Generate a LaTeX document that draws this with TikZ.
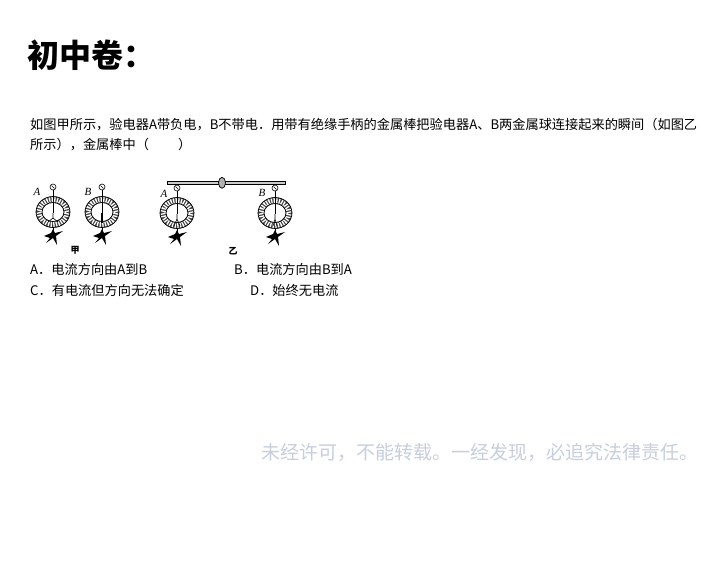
\documentclass[tikz,border=0pt]{standalone}
\usepackage{fontspec}
\setmainfont{Noto Sans CJK SC}
\newfontfamily\figfont{Liberation Serif}
\definecolor{markgray}{RGB}{200,206,222}
\tikzset{
  txt/.style={anchor=west,inner sep=0pt,font=\fontsize{13.2}{15}\selectfont},
  lab/.style={inner sep=0pt,font=\figfont\itshape\fontsize{11}{11}\selectfont},
  figcap/.style={inner sep=0pt,font=\fontsize{9}{9}\selectfont\bfseries},
}
% one electroscope: ball, stem, ring, leaves, base
\newcommand{\electro}[3]{%
  \begin{scope}[shift={(#1,#2)}]
    \draw[line width=6pt,black!75] (0,25) ellipse (14pt and 12.5pt);
    \draw[line width=5pt,dash pattern=on 1.3pt off 1.3pt,white] (0,25) ellipse (14pt and 12.5pt);
    \draw[line width=0.7pt] (0,25) ellipse (17pt and 15.5pt);
    \draw[line width=0.7pt] (0,25) ellipse (11pt and 9.5pt);
    \draw[line width=0.6pt] (0,0) circle (3pt);
    \draw[line width=0.5pt] (-1.5,-1.5)--(1.5,1.5);
    \draw[line width=0.7pt] (0,3)--(0,26);
    #3
    \draw[line width=0.9pt] (0,40)--(0,45);
    \fill (-9,49)--(-2,46)--(0,42)--(2,46)--(10,44)--(3,49)--(4,58)--(0,51)--(-7,56)--(-3,51)--cycle;
  \end{scope}}
\begin{document}
\begin{tikzpicture}[x=1pt,y=-1pt]
  \useasboundingbox[fill=white] (0,0) rectangle (720,563);
  \node[anchor=west,inner sep=0pt,font=\fontsize{32}{32}\selectfont\bfseries] (title) at (27,55) {初中卷：};
  \node[txt] (line1) at (30,125) {如图甲所示，验电器A带负电，B不带电．用带有绝缘手柄的金属棒把验电器A、B两金属球连接起来的瞬间（如图乙};
  \node[txt] (line2) at (30,145) {所示），金属棒中（\hspace{2.2em}）};
  % figure
  \filldraw[fill=gray!40,line width=0.7pt] (167,181) rectangle (285,184.5);
  \filldraw[fill=gray!60,line width=0.7pt] (222,182.8) ellipse (3.5pt and 5.5pt);
  \electro{53}{187}{\draw[line width=0.6pt] (0,26)--(0,31) (0,31)--(-5,35) (0,31)--(5,35);}
  \electro{102}{187}{\draw[line width=1.6pt] (0,26)--(0,36);}
  \electro{177}{188}{\draw[line width=0.6pt] (0,26)--(0,31) (0,31)--(-3,38) (0,31)--(3,38);}
  \electro{275}{188}{\draw[line width=0.6pt] (0,26)--(0,31) (0,31)--(-2,38) (0,31)--(2,38);}
  \node[lab] (la) at (37,192) {A};
  \node[lab] (lb) at (88,192) {B};
  \node[lab] (lc) at (164,194) {A};
  \node[lab] (ld) at (262,193) {B};
  \node[figcap] (jia) at (75,250) {甲};
  \node[figcap] (yi) at (233,251) {乙};
  % options
  \node[txt] (optA) at (30,269) {A．电流方向由A到B};
  \node[txt] (optB) at (234,269) {B．电流方向由B到A};
  \node[txt] (optC) at (30,290) {C．有电流但方向无法确定};
  \node[txt] (optD) at (250,290) {D．始终无电流};
  \node[anchor=west,inner sep=0pt,text=markgray,font=\fontsize{19}{19}\selectfont] (mark) at (261,452) {未经许可，不能转载。一经发现，必追究法律责任。};
\end{tikzpicture}
\end{document}
